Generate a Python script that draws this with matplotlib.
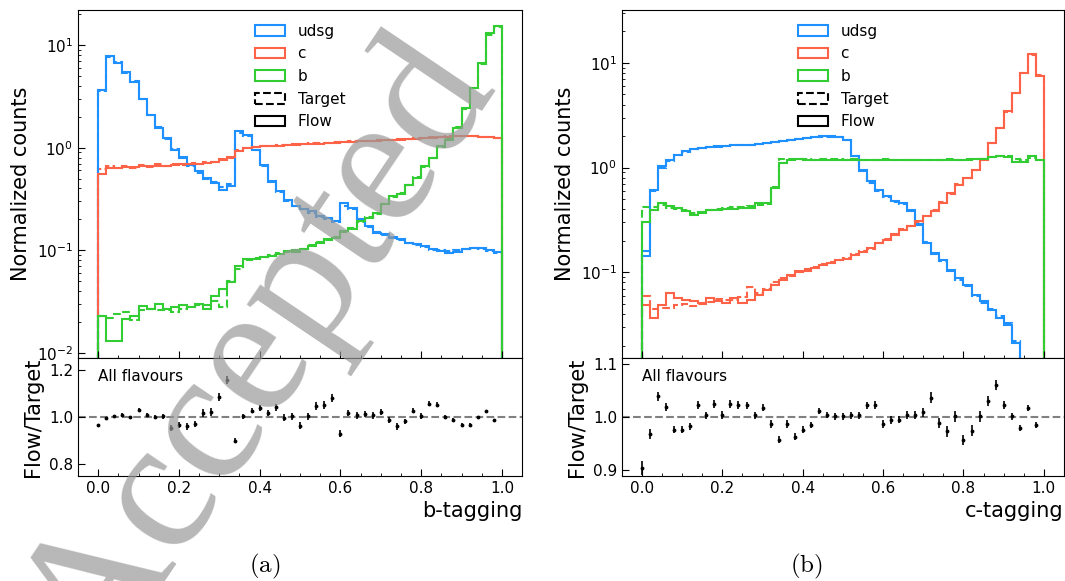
import matplotlib
matplotlib.use("Agg")
import matplotlib.pyplot as plt
import numpy as np
from matplotlib.patches import Patch
from matplotlib.ticker import AutoMinorLocator

# ── data: 50 bins on [0, 1] ───────────────────────────────────────
edges = np.linspace(0.0, 1.0, 51)
ratio_x = edges[:-1]

flavours = ["udsg", "c", "b"]
colours = ["#1E90FF", "#FF6347", "#32CD32"]

# b-tagging
btag_udsg_flow = [3.66, 7.8, 6.7, 5.5, 4.4, 3.0, 2.1, 1.55, 1.24, 0.96, 0.82, 0.68, 0.59, 0.51, 0.45, 0.39, 0.42,
                  1.44, 1.34, 0.96, 0.68, 0.47, 0.38, 0.31, 0.27, 0.25, 0.24, 0.215, 0.207, 0.193, 0.29, 0.26,
                  0.20, 0.172, 0.148, 0.143, 0.133, 0.128, 0.119, 0.114, 0.110, 0.102, 0.099, 0.095, 0.097,
                  0.102, 0.106, 0.106, 0.100, 0.096]
btag_udsg_target = [3.6, 7.7, 6.8, 5.4, 4.5, 3.0, 2.1, 1.6, 1.22, 0.97, 0.80, 0.66, 0.57, 0.50, 0.46, 0.41, 0.44,
                    1.40, 1.30, 0.94, 0.66, 0.46, 0.37, 0.30, 0.27, 0.25, 0.23, 0.21, 0.20, 0.19, 0.27, 0.25,
                    0.20, 0.17, 0.15, 0.14, 0.135, 0.125, 0.118, 0.113, 0.108, 0.100, 0.101, 0.098, 0.100,
                    0.104, 0.105, 0.103, 0.098, 0.095]
btag_c_flow = [0.55, 0.64, 0.64, 0.65, 0.65, 0.66, 0.66, 0.67, 0.67, 0.68, 0.69, 0.69, 0.70, 0.71, 0.73, 0.75,
               0.82, 0.93, 0.99, 1.01, 1.03, 1.04, 1.05, 1.06, 1.07, 1.08, 1.09, 1.09, 1.10, 1.12, 1.13, 1.14,
               1.15, 1.15, 1.17, 1.18, 1.19, 1.20, 1.21, 1.22, 1.24, 1.25, 1.27, 1.28, 1.30, 1.31, 1.29, 1.28,
               1.27, 1.23]
btag_c_target = [0.62, 0.66, 0.63, 0.67, 0.64, 0.68, 0.65, 0.69, 0.66, 0.70, 0.68, 0.71, 0.69, 0.73, 0.72, 0.77,
                 0.80, 0.95, 1.00, 1.02, 1.04, 1.05, 1.06, 1.07, 1.08, 1.09, 1.10, 1.11, 1.11, 1.13, 1.14, 1.15,
                 1.16, 1.16, 1.18, 1.19, 1.20, 1.21, 1.22, 1.23, 1.25, 1.26, 1.28, 1.29, 1.31, 1.30, 1.29, 1.28,
                 1.26, 1.24]
btag_b_flow = [0.023, 0.0129, 0.0129, 0.0214, 0.023, 0.0288, 0.0267, 0.030, 0.0267, 0.028, 0.029, 0.028, 0.030,
               0.027, 0.036, 0.042, 0.0485, 0.0705, 0.082, 0.082, 0.085, 0.087, 0.091, 0.099, 0.097, 0.102,
               0.110, 0.119, 0.128, 0.133, 0.154, 0.160, 0.193, 0.207, 0.232, 0.28, 0.336, 0.35, 0.436, 0.508,
               0.66, 0.79, 1.03, 1.2, 1.55, 2.42, 3.79, 6.64, 13.0, 15.3]
btag_b_target = [0.023, 0.022, 0.024, 0.025, 0.021, 0.026, 0.027, 0.026, 0.026, 0.025, 0.027, 0.028, 0.029,
                 0.029, 0.032, 0.028, 0.050, 0.066, 0.080, 0.084, 0.086, 0.089, 0.093, 0.097, 0.100, 0.104,
                 0.112, 0.121, 0.126, 0.136, 0.150, 0.165, 0.188, 0.212, 0.228, 0.285, 0.33, 0.36, 0.43, 0.52,
                 0.65, 0.80, 1.01, 1.22, 1.58, 2.38, 3.85, 6.5, 12.6, 15.0]
btag_ratio = [0.966, 0.996, 1.003, 1.010, 0.999, 1.031, 1.007, 0.999, 1.003, 0.953, 0.967, 0.960, 0.970, 1.017,
              1.021, 1.086, 1.156, 0.899, 1.003, 1.027, 1.039, 1.017, 1.041, 0.996, 1.003, 0.964, 1.003, 1.046,
              1.049, 1.081, 0.929, 1.017, 1.007, 1.013, 1.007, 1.021, 0.986, 0.960, 0.981, 1.027, 1.003, 1.056,
              1.053, 1.000, 0.989, 0.967, 0.967, 0.999, 1.024, 0.986]
btag_ratio_err = [0.006, 0.005, 0.005, 0.006, 0.007, 0.008, 0.008, 0.009, 0.010, 0.012, 0.013, 0.013, 0.014,
                  0.015, 0.016, 0.017, 0.018, 0.010, 0.010, 0.012, 0.013, 0.014, 0.015, 0.015, 0.016, 0.016,
                  0.016, 0.017, 0.017, 0.018, 0.014, 0.014, 0.014, 0.014, 0.014, 0.014, 0.013, 0.013, 0.012,
                  0.012, 0.012, 0.011, 0.010, 0.009, 0.008, 0.007, 0.006, 0.004, 0.003, 0.003]

# c-tagging
ctag_udsg_flow = [0.142, 0.616, 1.03, 1.19, 1.33, 1.43, 1.51, 1.54, 1.58, 1.60, 1.62, 1.64, 1.65, 1.66, 1.69,
                  1.72, 1.75, 1.79, 1.84, 1.87, 1.92, 1.96, 1.99, 1.99, 1.97, 1.85, 1.28, 0.92, 0.74, 0.616, 0.53,
                  0.476, 0.46, 0.382, 0.285, 0.19, 0.153, 0.132, 0.106, 0.088, 0.076, 0.061, 0.0527, 0.0438,
                  0.0364, 0.0314, 0.021, 0.012, 0.008, 0.005]
ctag_udsg_target = [0.16, 0.60, 1.00, 1.16, 1.31, 1.42, 1.49, 1.53, 1.56, 1.59, 1.61, 1.63, 1.64, 1.66, 1.68,
                    1.71, 1.74, 1.78, 1.82, 1.86, 1.90, 1.94, 1.97, 1.98, 1.96, 1.83, 1.30, 0.94, 0.72, 0.60,
                    0.52, 0.47, 0.45, 0.39, 0.29, 0.195, 0.150, 0.128, 0.104, 0.085, 0.074, 0.060, 0.051, 0.045,
                    0.038, 0.0325, 0.022, 0.013, 0.008, 0.005]
ctag_c_flow = [0.049, 0.037, 0.049, 0.063, 0.057, 0.055, 0.053, 0.051, 0.057, 0.053, 0.051, 0.057, 0.051, 0.055,
               0.061, 0.068, 0.076, 0.085, 0.095, 0.102, 0.104, 0.110, 0.118, 0.122, 0.132, 0.135, 0.147, 0.158,
               0.170, 0.190, 0.205, 0.230, 0.255, 0.275, 0.307, 0.342, 0.382, 0.46, 0.572, 0.688, 0.796, 0.957,
               1.19, 1.72, 2.4, 3.46, 5.19, 8.06, 12.1, 7.5]
ctag_c_target = [0.060, 0.045, 0.046, 0.046, 0.049, 0.050, 0.048, 0.050, 0.052, 0.056, 0.054, 0.055, 0.058,
                 0.072, 0.064, 0.070, 0.080, 0.088, 0.093, 0.100, 0.108, 0.113, 0.120, 0.126, 0.130, 0.138,
                 0.150, 0.160, 0.168, 0.192, 0.207, 0.228, 0.258, 0.278, 0.303, 0.347, 0.392, 0.47, 0.565,
                 0.70, 0.80, 0.94, 1.20, 1.70, 2.38, 3.42, 5.15, 8.0, 12.0, 7.6]
ctag_b_flow = [0.30, 0.396, 0.459, 0.427, 0.41, 0.382, 0.355, 0.37, 0.39, 0.395, 0.40, 0.405, 0.41, 0.415, 0.459,
               0.459, 0.64, 1.11, 1.19, 1.20, 1.19, 1.18, 1.18, 1.19, 1.18, 1.18, 1.19, 1.18, 1.17, 1.18, 1.19,
               1.18, 1.17, 1.18, 1.18, 1.17, 1.18, 1.18, 1.19, 1.18, 1.19, 1.20, 1.21, 1.27, 1.28, 1.27, 1.12,
               1.12, 1.28, 1.19]
ctag_b_target = [0.42, 0.42, 0.44, 0.41, 0.40, 0.39, 0.37, 0.38, 0.39, 0.40, 0.41, 0.42, 0.42, 0.43, 0.44, 0.45,
                 0.66, 1.20, 1.22, 1.21, 1.20, 1.19, 1.20, 1.21, 1.20, 1.19, 1.20, 1.19, 1.18, 1.19, 1.20, 1.19,
                 1.18, 1.19, 1.19, 1.18, 1.19, 1.19, 1.20, 1.19, 1.20, 1.21, 1.22, 1.25, 1.30, 1.28, 1.20, 1.18,
                 1.24, 1.19]
ctag_ratio = [0.903, 0.968, 1.039, 1.019, 0.976, 0.976, 0.982, 1.023, 1.003, 1.025, 1.004, 1.025, 1.023, 1.022,
              1.003, 1.018, 0.987, 0.957, 0.987, 0.963, 0.976, 0.985, 1.011, 1.004, 1.001, 1.001, 1.003, 1.003,
              1.022, 1.023, 0.987, 0.994, 0.995, 1.004, 1.004, 1.009, 1.037, 0.989, 0.973, 1.001, 0.956, 0.974,
              1.001, 1.030, 1.061, 1.023, 1.001, 0.979, 1.017, 0.985]
ctag_ratio_err = [0.014, 0.010, 0.008, 0.007, 0.007, 0.007, 0.007, 0.007, 0.007, 0.007, 0.007, 0.007, 0.007,
                  0.007, 0.007, 0.007, 0.007, 0.007, 0.007, 0.007, 0.007, 0.006, 0.006, 0.006, 0.006, 0.006,
                  0.006, 0.006, 0.007, 0.007, 0.007, 0.007, 0.007, 0.008, 0.008, 0.009, 0.010, 0.010, 0.010,
                  0.011, 0.010, 0.010, 0.010, 0.009, 0.009, 0.008, 0.007, 0.006, 0.005, 0.005]

panels = [
    dict(flow=[btag_udsg_flow, btag_c_flow, btag_b_flow],
         target=[btag_udsg_target, btag_c_target, btag_b_target],
         ratio=btag_ratio, err=btag_ratio_err, xlabel="b-tagging",
         ylim=(0.0089, 22), rlim=(0.75, 1.25), rticks=[0.8, 1.0, 1.2], tag="(a)"),
    dict(flow=[ctag_udsg_flow, ctag_c_flow, ctag_b_flow],
         target=[ctag_udsg_target, ctag_c_target, ctag_b_target],
         ratio=ctag_ratio, err=ctag_ratio_err, xlabel="c-tagging",
         ylim=(0.0152, 32), rlim=(0.888, 1.112), rticks=[0.9, 1.0, 1.1], tag="(b)"),
]

# ── plot ──────────────────────────────────────────────────────────
plt.rcParams.update({
    "font.family": "DejaVu Sans",
    "mathtext.fontset": "cm",
    "xtick.direction": "in",
    "ytick.direction": "in",
    "xtick.labelsize": 11,
    "ytick.labelsize": 11,
})

fig = plt.figure(figsize=(10.65, 5.81), dpi=100)

lefts = [0.0732, 0.584]
widths = [0.417, 0.415]
tag_x = [0.249, 0.757]

for p, x0, w, tx in zip(panels, lefts, widths, tag_x):
    ax = fig.add_axes([x0, 0.3838, w, 0.599])
    rax = fig.add_axes([x0, 0.1807, w, 0.2031], sharex=ax)

    for vals, col in zip(p["target"], colours):
        ax.stairs(vals, edges, baseline=1e-5, color=col, lw=1.5, ls="--")
    for vals, col in zip(p["flow"], colours):
        ax.stairs(vals, edges, baseline=1e-5, color=col, lw=1.5)

    ax.set_yscale("log")
    ax.set_ylim(*p["ylim"])
    ax.set_xlim(-0.05, 1.05)
    ax.set_ylabel("Normalized counts", fontsize=15)
    ax.tick_params(labelbottom=False)
    ax.tick_params(which="major", length=5)
    ax.tick_params(which="minor", length=2.5)
    ax.xaxis.set_minor_locator(AutoMinorLocator(4))

    handles = [Patch(facecolor="none", edgecolor=c, lw=1.5, label=f) for f, c in zip(flavours, colours)]
    handles += [Patch(facecolor="none", edgecolor="black", lw=1.5, ls="--", label="Target"),
                Patch(facecolor="none", edgecolor="black", lw=1.5, label="Flow")]
    ax.legend(handles=handles, loc="upper center", frameon=False, fontsize=11)

    rax.errorbar(ratio_x, p["ratio"], yerr=p["err"], fmt=".", color="black", ms=3.5,
                 elinewidth=1.2, capsize=0)
    rax.axhline(1.0, color="gray", ls="--", lw=1.5, zorder=0)
    rax.set_ylim(*p["rlim"])
    rax.set_yticks(p["rticks"])
    rax.set_ylabel("Flow/Target", fontsize=15)
    rax.set_xlabel(p["xlabel"], fontsize=15, loc="right")
    rax.tick_params(which="major", length=5)
    rax.tick_params(which="minor", length=2.5)
    rax.text(0.045, 0.84, "All flavours", transform=rax.transAxes, fontsize=11, va="center")

    fig.text(tx, 0.025, r"$\mathrm{" + p["tag"] + "}$", fontsize=18, ha="center", va="center")

# watermark
fig.text(0.245, 0.39, "Accepted", fontsize=135, family="Liberation Serif", color="#999999",
         alpha=0.7, rotation=56, ha="center", va="center", zorder=10)

fig.savefig("out.png", dpi=100)
